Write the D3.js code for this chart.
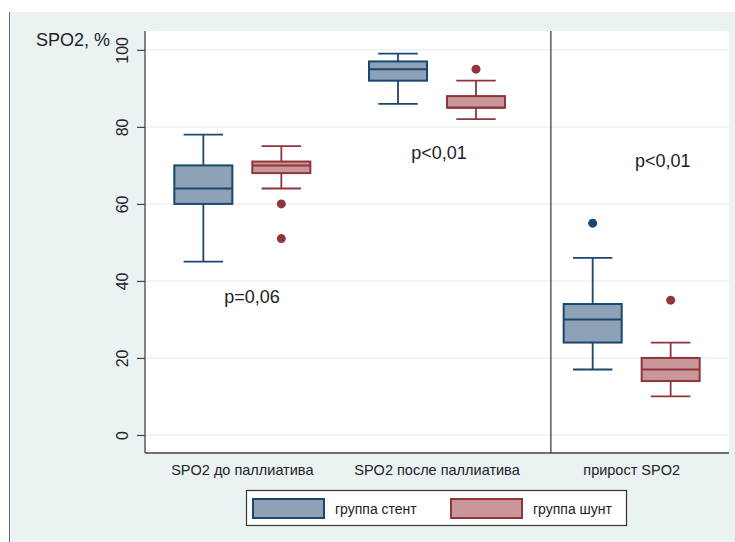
<!DOCTYPE html>
<html>
<head>
<meta charset="utf-8">
<script src="https://cdn.jsdelivr.net/npm/d3@7"></script>
<style>
  body { margin: 0; background: #fff; }
  svg { display: block; font-family: "Liberation Sans", Arial, sans-serif; }
</style>
</head>
<body>
<div id="chart"></div>
<script>
"use strict"

// categories and groups
const categories = ["SPO2 до паллиатива", "SPO2 после паллиатива", "прирост SPO2"];
const groups = ["группа стент", "группа шунт"];

// [lower whisker, Q1, median, Q3, upper whisker] per category
const stentStats = [[45, 60, 64, 70, 78], [86, 92, 95, 97, 99], [17, 24, 30, 34, 46]];
const shuntStats = [[64, 68, 70, 71, 75], [82, 85, 85, 88, 92], [10, 14, 17, 20, 24]];
const stentOutliers = [[], [], [55]];
const shuntOutliers = [[60, 51], [95], [35]];

const yTicks = [0, 20, 40, 60, 80, 100];

// p-value notes: position in category units (0..3) and value units
const pNotes = [
    { text: "p=0,06", at: 0.55, value: 34.3 },
    { text: "p<0,01", at: 1.51, value: 71.7 },
    { text: "p<0,01", at: 2.66, value: 69.6 }
];
const separatorAt = 2.085;

const colors = {
    "группа стент": { fill: "#8da2b7", stroke: "#1a476f" },
    "группа шунт": { fill: "#c9969a", stroke: "#90353b" }
};

const width = 735, height = 542;
const plot = { left: 145, right: 729, top: 31, bottom: 453 };

let svg = d3.select("#chart").append("svg")
    .attr("width", width)
    .attr("height", height);

// outer panel
svg.append("rect")
    .attr("x", 9).attr("y", 12)
    .attr("width", width - 9).attr("height", height - 12)
    .attr("fill", "#eaf2f3");
svg.append("line")
    .attr("x1", 9.5).attr("x2", 9.5)
    .attr("y1", 12).attr("y2", height)
    .attr("stroke", "#6b6b6b").attr("stroke-width", 1);

// plot region
svg.append("rect")
    .attr("x", plot.left).attr("y", plot.top)
    .attr("width", plot.right - plot.left).attr("height", plot.bottom - plot.top)
    .attr("fill", "#fff");

let y = d3.scaleLinear()
    .domain([-4.68, 104.9])
    .range([plot.bottom, plot.top]);

let x = d3.scaleBand()
    .domain(categories)
    .range([plot.left, plot.right])
    .padding(0);

let xCont = d3.scaleLinear()
    .domain([0, categories.length])
    .range([plot.left, plot.right]);

let xGroup = d3.scaleBand()
    .domain(groups)
    .range([0, x.bandwidth()])
    .paddingInner(0.256)
    .paddingOuter(0.376);

// gridlines
svg.append("g")
    .selectAll("line")
    .data(yTicks)
    .enter().append("line")
    .attr("x1", plot.left).attr("x2", plot.right)
    .attr("y1", d => y(d)).attr("y2", d => y(d))
    .attr("stroke", "#eaf2f3")
    .attr("stroke-width", 1.5);

// y axis
let yAxis = svg.append("g")
    .attr("transform", "translate(" + plot.left + ",0)")
    .call(d3.axisLeft(y).tickValues(yTicks).tickSize(8).tickPadding(3));
yAxis.select(".domain").remove();
yAxis.selectAll(".tick line").attr("stroke", "#444").attr("stroke-width", 1.2);
yAxis.selectAll(".tick text")
    .attr("transform", "rotate(-90)")
    .attr("x", 0).attr("y", -17)
    .attr("dy", 0)
    .attr("text-anchor", "middle")
    .attr("fill", "#222")
    .style("font-size", "16px")
    .attr("font-family", null);

// axis lines
svg.append("line")
    .attr("x1", plot.left).attr("x2", plot.left)
    .attr("y1", plot.top).attr("y2", plot.bottom)
    .attr("stroke", "#444").attr("stroke-width", 1.3);
svg.append("line")
    .attr("x1", plot.left).attr("x2", plot.right)
    .attr("y1", plot.bottom).attr("y2", plot.bottom)
    .attr("stroke", "#444").attr("stroke-width", 1.3);

// x labels
svg.append("g")
    .selectAll("text")
    .data(categories)
    .enter().append("text")
    .attr("x", d => x(d) + x.bandwidth() / 2)
    .attr("y", 475)
    .attr("text-anchor", "middle")
    .attr("fill", "#222")
    .style("font-size", "14.5px")
    .text(d => d);

// y title
svg.append("text")
    .attr("x", 110).attr("y", 46)
    .attr("text-anchor", "end")
    .attr("fill", "#222")
    .style("font-size", "18px")
    .text("SPO2, %");

// separator line
svg.append("line")
    .attr("x1", xCont(separatorAt)).attr("x2", xCont(separatorAt))
    .attr("y1", plot.top).attr("y2", plot.bottom)
    .attr("stroke", "#333").attr("stroke-width", 1.2);

// boxes
let boxData = [];
categories.forEach((cat, i) => {
    boxData.push({ cat: cat, group: groups[0], s: stentStats[i], out: stentOutliers[i] });
    boxData.push({ cat: cat, group: groups[1], s: shuntStats[i], out: shuntOutliers[i] });
});

let bw = xGroup.bandwidth();
let capW = bw * 0.68;

let boxes = svg.append("g")
    .selectAll("g")
    .data(boxData)
    .enter().append("g")
    .attr("transform", d => "translate(" + (x(d.cat) + xGroup(d.group)) + ",0)");

// whiskers
boxes.append("line")
    .attr("x1", bw / 2).attr("x2", bw / 2)
    .attr("y1", d => y(d.s[4])).attr("y2", d => y(d.s[3]))
    .attr("stroke", d => colors[d.group].stroke).attr("stroke-width", 1.8);
boxes.append("line")
    .attr("x1", bw / 2).attr("x2", bw / 2)
    .attr("y1", d => y(d.s[1])).attr("y2", d => y(d.s[0]))
    .attr("stroke", d => colors[d.group].stroke).attr("stroke-width", 1.8);
// caps
boxes.selectAll(".cap")
    .data(d => [d.s[0], d.s[4]].map(v => ({ v: v, group: d.group })))
    .enter().append("line")
    .attr("class", "cap")
    .attr("x1", (bw - capW) / 2).attr("x2", (bw + capW) / 2)
    .attr("y1", d => y(d.v)).attr("y2", d => y(d.v))
    .attr("stroke", d => colors[d.group].stroke).attr("stroke-width", 1.8);
// box
boxes.append("rect")
    .attr("x", 0)
    .attr("width", bw)
    .attr("y", d => y(d.s[3]))
    .attr("height", d => y(d.s[1]) - y(d.s[3]))
    .attr("fill", d => colors[d.group].fill)
    .attr("stroke", d => colors[d.group].stroke)
    .attr("stroke-width", 2);
// median
boxes.append("line")
    .attr("x1", 0).attr("x2", bw)
    .attr("y1", d => y(d.s[2])).attr("y2", d => y(d.s[2]))
    .attr("stroke", d => colors[d.group].stroke).attr("stroke-width", 2);
// outliers
boxes.selectAll(".outlier")
    .data(d => d.out.map(v => ({ v: v, group: d.group })))
    .enter().append("circle")
    .attr("class", "outlier")
    .attr("cx", bw / 2)
    .attr("cy", d => y(d.v))
    .attr("r", 4.5)
    .attr("fill", d => colors[d.group].stroke);

// p-values
svg.append("g")
    .selectAll("text")
    .data(pNotes)
    .enter().append("text")
    .attr("x", d => xCont(d.at))
    .attr("y", d => y(d.value))
    .attr("text-anchor", "middle")
    .attr("fill", "#222")
    .style("font-size", "18px")
    .text(d => d.text);

// legend
let legend = svg.append("g");
legend.append("rect")
    .attr("x", 246.5).attr("y", 490.5)
    .attr("width", 380).attr("height", 35)
    .attr("fill", "#fff")
    .attr("stroke", "#333").attr("stroke-width", 1.2);

let legendX = [253, 451];
let items = legend.selectAll(".item")
    .data(groups)
    .enter().append("g")
    .attr("class", "item")
    .attr("transform", (d, i) => "translate(" + legendX[i] + ",0)");
items.append("rect")
    .attr("x", 0).attr("y", 499)
    .attr("width", 71).attr("height", 19)
    .attr("fill", d => colors[d].fill)
    .attr("stroke", d => colors[d].stroke)
    .attr("stroke-width", 2);
items.append("text")
    .attr("x", 82).attr("y", 514)
    .attr("fill", "#222")
    .style("font-size", "14px")
    .text(d => d);
</script>
</body>
</html>
